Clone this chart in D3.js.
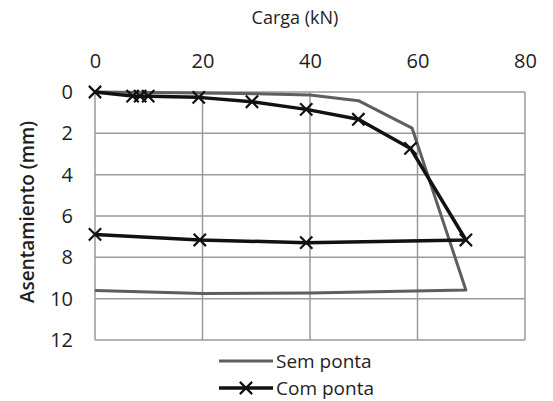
<!DOCTYPE html>
<html>
<head>
<meta charset="utf-8">
<script src="https://cdn.jsdelivr.net/npm/d3@7"></script>
<style>
  body { margin: 0; background: #fff; }
  svg text { font-family: "Open Sans", "Noto Sans", sans-serif; fill: #1e1e1e; }
</style>
</head>
<body>
<div id="chart"></div>
<script>
// load (kN) vs settlement (mm)
var semCarga = [0, 10, 20, 30, 40, 49, 59, 69, 40, 20, 0];
var semAsent = [0, 0.03, 0.05, 0.08, 0.15, 0.42, 1.75, 9.58, 9.72, 9.75, 9.6];

var comCarga = [0, 7, 8.4, 9.9, 19.3, 29.2, 39.3, 49, 58.7, 69, 39.3, 19.5, 0];
var comAsent = [0, 0.2, 0.2, 0.2, 0.26, 0.47, 0.84, 1.32, 2.73, 7.16, 7.29, 7.16, 6.89];

var xTicks = [0, 20, 40, 60, 80];
var yTicks = [0, 2, 4, 6, 8, 10, 12];

(function () {
    var width = 553, height = 401;
    var margin = { top: 92, right: 28, bottom: 61, left: 95 };

    var svg = d3.select('#chart')
                .append('svg')
                .attr('width', width)
                .attr('height', height);

    var w = width - margin.left - margin.right,
        h = height - margin.top - margin.bottom;

    var g = svg.append('g')
               .attr('transform', 'translate(' + margin.left + ',' + margin.top + ')');

    var xScale = d3.scaleLinear().domain([0, 80]).range([0, w]);
    var yScale = d3.scaleLinear().domain([0, 12]).range([0, h]);

    // grid
    g.selectAll('.vgrid')
        .data(xTicks)
        .enter()
        .append('line')
        .attr('x1', function(d) { return xScale(d); })
        .attr('x2', function(d) { return xScale(d); })
        .attr('y1', 0)
        .attr('y2', h)
        .attr('stroke', '#9a9a9a')
        .attr('stroke-width', 1.5);

    g.selectAll('.hgrid')
        .data(yTicks)
        .enter()
        .append('line')
        .attr('x1', 0)
        .attr('x2', w)
        .attr('y1', function(d) { return yScale(d); })
        .attr('y2', function(d) { return yScale(d); })
        .attr('stroke', '#9a9a9a')
        .attr('stroke-width', 1.5);

    // axes (top x axis, left y axis), tick labels only
    var xAxis = g.append('g')
        .call(d3.axisTop(xScale).tickValues(xTicks).tickSize(0).tickPadding(24));
    xAxis.select('.domain').remove();
    xAxis.selectAll('text').style('font-size', '20px').style('fill', '#1e1e1e');

    var yAxis = g.append('g')
        .call(d3.axisLeft(yScale).tickValues(yTicks).tickSize(0).tickPadding(22));
    yAxis.select('.domain').remove();
    yAxis.selectAll('text').style('font-size', '20px').style('fill', '#1e1e1e');

    // titles
    svg.append('text')
        .attr('x', 295)
        .attr('y', 24)
        .attr('text-anchor', 'middle')
        .style('font-size', '18px')
        .text('Carga (kN)');

    svg.append('text')
        .attr('transform', 'translate(34,212) rotate(-90)')
        .attr('text-anchor', 'middle')
        .style('font-size', '19px')
        .style('font-weight', '600')
        .text('Asentamiento (mm)');

    var line = d3.line()
        .x(function(d) { return xScale(d[0]); })
        .y(function(d) { return yScale(d[1]); });

    var semData = d3.zip(semCarga, semAsent);
    var comData = d3.zip(comCarga, comAsent);

    g.append('path')
        .datum(semData)
        .attr('d', line)
        .attr('fill', 'none')
        .attr('stroke', '#5e5e5e')
        .attr('stroke-width', 3)
        .attr('stroke-linejoin', 'round');

    g.append('path')
        .datum(comData)
        .attr('d', line)
        .attr('fill', 'none')
        .attr('stroke', '#111')
        .attr('stroke-width', 3.5)
        .attr('stroke-linejoin', 'round');

    var cross = d3.symbol().type(d3.symbolX).size(100);
    g.selectAll('.mark')
        .data(comData)
        .enter()
        .append('path')
        .attr('d', cross)
        .attr('transform', function(d) { return 'translate(' + xScale(d[0]) + ',' + yScale(d[1]) + ')'; })
        .attr('fill', 'none')
        .attr('stroke', '#111')
        .attr('stroke-width', 2.2);

    // legend
    var leg = svg.append('g').attr('transform', 'translate(219,361)');
    leg.append('line').attr('x1', 0).attr('x2', 54).attr('y1', 0).attr('y2', 0)
        .attr('stroke', '#5e5e5e').attr('stroke-width', 3);
    leg.append('text').attr('x', 57).attr('y', 7).style('font-size', '19px').text('Sem ponta');

    var leg2 = svg.append('g').attr('transform', 'translate(219,388)');
    leg2.append('line').attr('x1', 0).attr('x2', 54).attr('y1', 0).attr('y2', 0)
        .attr('stroke', '#111').attr('stroke-width', 3.5);
    leg2.append('path').attr('d', cross).attr('transform', 'translate(27,0)')
        .attr('fill', 'none').attr('stroke', '#111').attr('stroke-width', 2.2);
    leg2.append('text').attr('x', 57).attr('y', 7).style('font-size', '19px').text('Com ponta');
})();
</script>
</body>
</html>
